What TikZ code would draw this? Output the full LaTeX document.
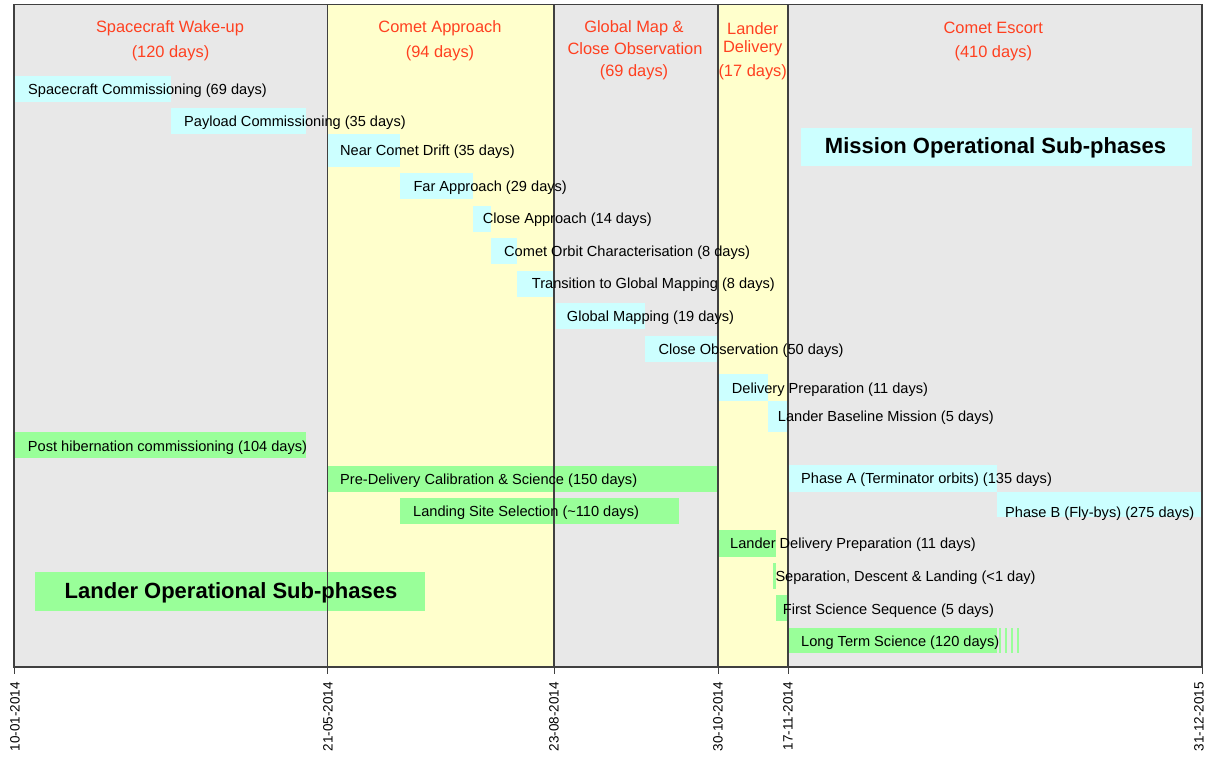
\documentclass[tikz,border=0pt]{standalone}
\usepackage{fontspec}
\setmainfont{Liberation Sans}
\definecolor{bggray}{RGB}{232,232,232}
\definecolor{bgyellow}{RGB}{255,255,204}
\definecolor{scbar}{RGB}{204,255,255}
\definecolor{ldbar}{RGB}{153,255,153}
\definecolor{phasered}{RGB}{255,64,32}
\definecolor{framegray}{RGB}{64,64,64}

\begin{document}
\begin{tikzpicture}[x=1pt,y=-1pt,
  lbl/.style={anchor=west, inner sep=0pt, yshift=-1.5pt, font=\fontsize{14.6}{17}\selectfont},
  hdr/.style={anchor=center, inner sep=0pt, yshift=-1.5pt, text=phasered, font=\fontsize{16.4}{19}\selectfont},
  ttl/.style={anchor=center, inner sep=0pt, yshift=-1pt, font=\fontsize{22}{25}\selectfont\bfseries},
  datelbl/.style={rotate=90, anchor=east, inner sep=0pt, font=\fontsize{13.5}{16}\selectfont},
  scfill/.style={fill=scbar},
  ldfill/.style={fill=ldbar},
  border/.style={draw=framegray, line width=1.4pt},
  tick/.style={draw=framegray, line width=1pt}]
\useasboundingbox (0,0) rectangle (1207,757);

% phase backgrounds
\fill[bggray] (14,4.5) rectangle (1202,667);
\fill[bgyellow] (327.5,4.5) rectangle (554,667);
\fill[bgyellow] (718,4.5) rectangle (788,667);

% mission operational sub-phase bars
\fill[scfill] (15,76) rectangle (171,101.7);
\fill[scfill] (171,107.7) rectangle (306,134);
\fill[scfill] (328,134.3) rectangle (400,166.7);
\fill[scfill] (400,173.3) rectangle (473,199.3);
\fill[scfill] (473,205.7) rectangle (491,231.7);
\fill[scfill] (491,238.3) rectangle (517.3,264);
\fill[scfill] (517.3,270.7) rectangle (554,296.7);
\fill[scfill] (555.7,303.3) rectangle (645,329);
\fill[scfill] (645,335.7) rectangle (718,361.7);
\fill[scfill] (719,374.3) rectangle (767.7,400.7);
\fill[scfill] (767.7,400.7) rectangle (788,431.7);
\fill[scfill] (789,465) rectangle (996.7,491.7);
\fill[scfill] (996.7,491.7) rectangle (1202,517.3);
\fill[scfill] (801,127.7) rectangle (1192.3,166);

% lander operational sub-phase bars
\fill[ldfill] (14.7,432.3) rectangle (306,458.3);
\fill[ldfill] (327.2,465.7) rectangle (717.3,491.5);
\fill[ldfill] (399.6,498.3) rectangle (678.6,523.7);
\fill[ldfill] (719,530) rectangle (775.7,556.7);
\fill[ldfill] (772.7,562.7) rectangle (775.7,589.3);
\fill[ldfill] (775.7,595.3) rectangle (788,621);
\fill[ldfill] (789,627.7) rectangle (996.7,653.3);
\foreach \sx in {999.3,1005,1010.7,1016.7}
  \fill[ldfill] (\sx,627.7) rectangle ++(2,25.6);
\fill[ldfill] (34.8,572.3) rectangle (425.4,610.7);

% frame, phase boundaries and date ticks
\draw[border] (14,4.5) rectangle (1202,667);
\foreach \px in {327.5,554,718,788}
  \draw[border] (\px,4.5) -- (\px,667);
\foreach \px in {14,327.5,554,718,788,1202}
  \draw[tick] (\px,667) -- (\px,674);

% phase headers
\node[hdr] (hwake1) at (170,26.7) {Spacecraft Wake-up};
\node[hdr] (hwake2) at (170.5,51.7) {(120 days)};
\node[hdr] (happr1) at (440,26.7) {Comet Approach};
\node[hdr] (happr2) at (440,51.7) {(94 days)};
\node[hdr] (hmap1) at (634,26.7) {Global Map \&};
\node[hdr] (hmap2) at (635,46.7) {Close Observation};
\node[hdr] (hmap3) at (634,70.7) {(69 days)};
\node[hdr] (hdel1) at (752.7,26.7) {Lander};
\node[hdr] (hdel2) at (752.7,46.7) {Delivery};
\node[hdr] (hdel3) at (752.7,70.7) {(17 days)};
\node[hdr] (hesc1) at (993.3,26.7) {Comet Escort};
\node[hdr] (hesc2) at (993.3,51.7) {(410 days)};

% section titles
\node[ttl] (mission) at (995.5,147.3) {Mission Operational Sub-phases};
\node[ttl] (lander) at (231,591.7) {Lander Operational Sub-phases};

% mission sub-phase labels
\node[lbl] (scc) at (28,89.3) {Spacecraft Commissioning (69 days)};
\node[lbl] (plc) at (184,121) {Payload Commissioning (35 days)};
\node[lbl] (ncd) at (340,150.7) {Near Comet Drift (35 days)};
\node[lbl] (far) at (413.3,186.5) {Far Approach (29 days)};
\node[lbl] (clo) at (482.7,218.3) {Close Approach (14 days)};
\node[lbl] (coc) at (504,251) {Comet Orbit Characterisation (8 days)};
\node[lbl] (tgm) at (531.7,283.3) {Transition to Global Mapping (8 days)};
\node[lbl] (glm) at (566.7,316) {Global Mapping (19 days)};
\node[lbl] (cob) at (658.3,349) {Close Observation (50 days)};
\node[lbl] (dlp) at (731.7,388) {Delivery Preparation (11 days)};
\node[lbl] (lbm) at (777.7,416) {Lander Baseline Mission (5 days)};
\node[lbl] (pha) at (801,478.5) {Phase A (Terminator orbits) (135 days)};
\node[lbl] (phb) at (1005,512.3) {Phase B (Fly-bys) (275 days)};

% lander sub-phase labels
\node[lbl] (phc) at (27.7,446) {Post hibernation commissioning (104 days)};
\node[lbl] (pdc) at (340,479) {Pre-Delivery Calibration \& Science (150 days)};
\node[lbl] (lss) at (413,511.7) {Landing Site Selection (\textasciitilde110 days)};
\node[lbl] (ldp) at (730,543) {Lander Delivery Preparation (11 days)};
\node[lbl] (sdl) at (775.3,576) {Separation, Descent \& Landing (<1 day)};
\node[lbl] (fss) at (782.7,609) {First Science Sequence (5 days)};
\node[lbl] (lts) at (801,641) {Long Term Science (120 days)};

% date axis
\node[datelbl] (d1) at (15,682) {10-01-2014};
\node[datelbl] (d2) at (328,682) {21-05-2014};
\node[datelbl] (d3) at (554,682) {23-08-2014};
\node[datelbl] (d4) at (718,682) {30-10-2014};
\node[datelbl] (d5) at (788,682) {17-11-2014};
\node[datelbl] (d6) at (1199,682) {31-12-2015};
\end{tikzpicture}
\end{document}
